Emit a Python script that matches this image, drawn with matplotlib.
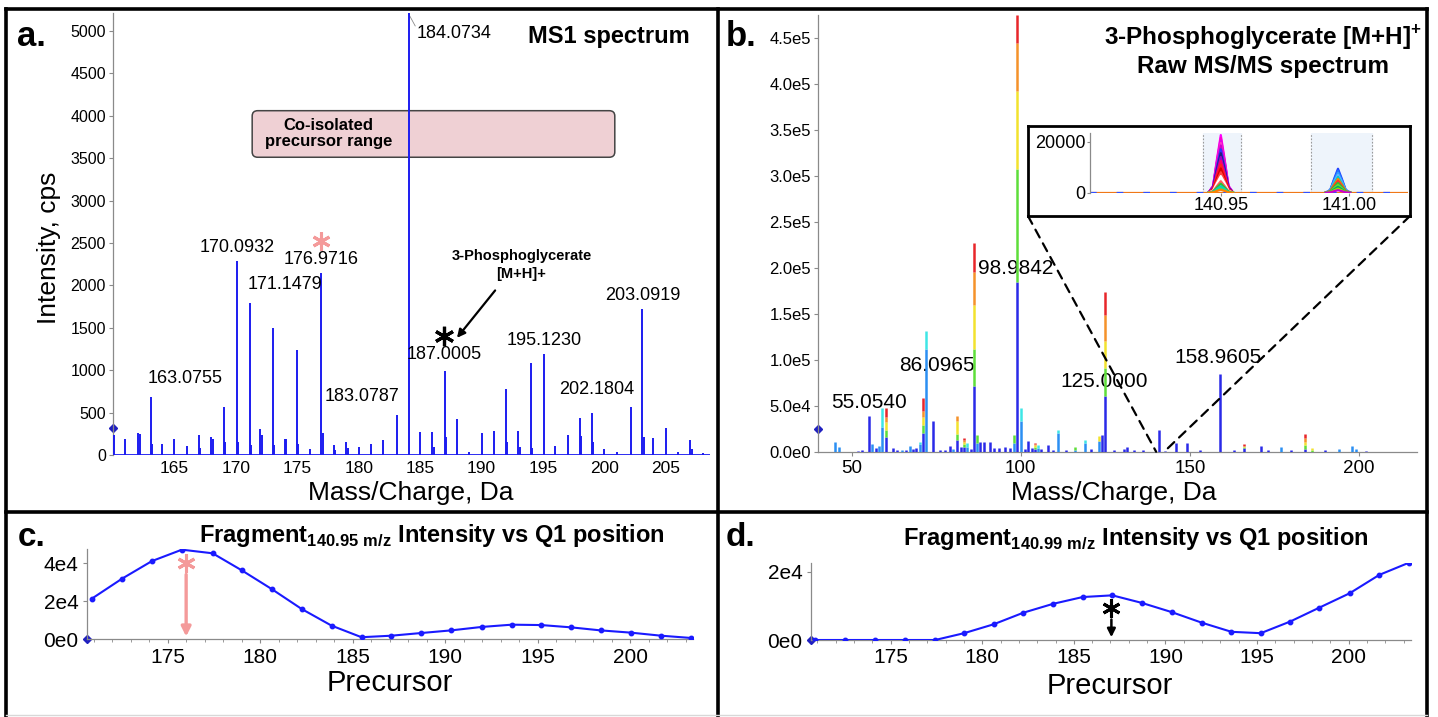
import numpy as np
import matplotlib
matplotlib.use('Agg')
import matplotlib.pyplot as plt
from matplotlib.lines import Line2D
from matplotlib.patches import FancyBboxPatch, ConnectionPatch
import matplotlib.transforms as mtransforms

plt.rcParams['font.family'] = ['Liberation Sans', 'DejaVu Sans']
plt.rcParams['mathtext.fontset'] = 'custom'
plt.rcParams['mathtext.rm'] = 'Liberation Sans'
plt.rcParams['mathtext.bf'] = 'Liberation Sans:bold'
NARROW = ['Liberation Sans Narrow', 'Liberation Sans', 'DejaVu Sans']

# ---------------- data ----------------
# panel a: MS1 spectrum (m/z, cps)
mz_a = [160.1, 161.0, 162.0, 162.2, 163.08, 163.2, 164.0, 165.0, 166.0, 167.0, 167.1,
        168.0, 168.1, 169.0, 169.1, 170.09, 170.2, 171.15, 171.25, 172.0, 172.1, 173.0,
        173.1, 174.0, 174.1, 175.0, 175.1, 176.0, 176.97, 177.1, 178.0, 178.1, 179.0,
        179.1, 180.0, 181.0, 182.0, 183.08, 184.07, 185.0, 186.0, 186.1, 187.0, 187.1,
        188.0, 189.0, 190.0, 191.0, 192.0, 192.1, 193.0, 193.1, 194.0, 194.1, 195.12,
        196.0, 197.0, 198.0, 198.1, 199.0, 199.1, 200.0, 201.0, 202.18, 203.09, 203.2,
        204.0, 205.0, 206.0, 207.0, 207.1, 208.0]
int_a = [236, 185, 263, 250, 688, 130, 126, 185, 106, 236, 80,
         216, 190, 562, 150, 2288, 150, 1796, 120, 303, 240, 1502,
         120, 185, 190, 1238, 130, 67, 2150, 263, 118, 60, 157,
         80, 98, 126, 177, 472, 5300, 267, 267, 100, 990, 216,
         420, 40, 263, 287, 774, 150, 283, 100, 1081, 80, 1191,
         106, 236, 432, 220, 491, 150, 67, 40, 562, 1718, 216,
         197, 314, 40, 177, 70, 28]
label_mz_a = [163.0755, 170.0932, 171.1479, 176.9716, 183.0787, 187.0005, 195.1230,
              202.1804, 203.0919]
label_int_a = [688, 2288, 1796, 2150, 472, 990, 1191, 562, 1718]
label_txt_a = ['163.0755', '170.0932', '171.1479', '176.9716', '183.0787', '187.0005',
               '195.1230', '202.1804', '203.0919']

# panel b: raw MS/MS spectrum, stacked per overlaid scan colour (x1000 counts)
mz_b = [45.1, 46.3, 52.0, 53.2, 55.05, 56.1, 57.1, 58.0, 59.05, 60.05, 62.2, 63.5, 65.0,
        66.2, 67.2, 68.2, 69.1, 70.1, 71.05, 72.08, 74.1, 76.1, 77.5, 79.1, 80.0, 81.05,
        82.2, 83.1, 84.1, 85.2, 86.1, 87.1, 88.0, 89.1, 91.0, 92.2, 93.5, 95.2, 96.7,
        98.1, 98.98, 100.05, 101.2, 102.2, 103.2, 104.2, 105.2, 106.1, 108.1, 109.5,
        111.1, 113.5, 116.1, 119.1, 120.8, 123.0, 124.0, 125.0, 127.5, 130.5, 131.5,
        133.5, 136.0, 140.9, 142.5, 145.8, 149.0, 153.0, 158.95, 163.0, 166.0, 171.0,
        173.0, 176.9, 180.0, 184.05, 186.1, 190.0, 193.9, 198.0, 199.2, 202.0]
blue_b = [0, 0, 1.0, 1.5, 39, 0, 4.5, 0, 0, 16, 3.5, 1.5, 0,
          1.5, 0, 2.5, 3.5, 0, 20, 0, 33, 2, 1.5, 6, 0, 13,
          5.4, 5, 0, 2.5, 71, 0, 11, 11, 11, 3.6, 3.6, 4.7, 3.6,
          0, 185, 0, 2.5, 12, 3.6, 3, 0, 2.5, 7, 2,
          0, 2, 0, 0, 2.5, 0, 18, 61, 2, 2.5, 4.7,
          2, 2, 23.6, 1, 9.8, 9, 1.5, 85, 1.5, 4, 6.5,
          1.5, 0, 2, 3, 0, 1.5, 0, 0, 0, 1]
lblue_b = [11, 5.4, 0, 0, 0, 8, 0, 6, 27, 0, 0, 0, 2,
           0, 6, 0, 0, 8, 0, 112, 0, 0, 0, 0, 2.5, 0,
           0, 0, 5, 0, 0, 10, 0, 0, 0, 0, 0, 0, 0,
           10, 0, 33, 0, 0, 0, 0, 4, 0, 0, 0,
           20, 0, 2, 9, 0, 12, 0, 0, 0, 0, 0,
           0, 0, 0, 0, 0, 0, 0, 0, 0, 0, 0,
           0, 5.4, 0, 0, 0, 0, 2.9, 6.2, 2.9, 0]
cyan_b = [0, 0, 0, 0, 0, 0, 0, 0, 20, 0, 0, 0, 0,
          0, 0, 0, 0, 3, 0, 19, 0, 0, 0, 0, 0, 0,
          0, 0, 4, 0, 0, 0, 0, 0, 0, 0, 0, 0, 0,
          0, 0, 14, 0, 0, 0, 0, 3, 0, 0, 0,
          3.6, 0, 0, 4, 0, 0, 0, 0, 0, 0, 0,
          0, 0, 0, 0, 0, 0, 0, 0, 0, 0, 0,
          0, 0, 0, 0, 0, 0, 0, 0, 0, 0]
green_b = [0, 0, 0, 0, 0, 0, 0, 0, 0, 8, 0, 0, 0,
           0, 0, 0, 0, 0, 9, 0, 0, 0, 0, 0, 0, 6,
           0, 3, 0, 0, 41, 8, 0, 0, 0, 0, 0, 0, 0,
           8, 123, 0, 0, 0, 0, 2, 0, 0, 0, 0,
           0, 0, 2.7, 0, 0, 0, 0, 30, 0, 0, 0,
           0, 0, 0, 0, 0, 0, 0, 0, 0, 1, 0,
           0, 0, 0, 4, 2, 0, 0, 0, 0, 0]
yellow_b = [0, 0, 0, 0, 0, 0, 0, 0, 0, 8, 0, 0, 0,
            0, 0, 0, 0, 0, 9, 0, 0, 0, 0, 0, 0, 14,
            0, 3, 0, 0, 48, 0, 0, 0, 0, 0, 0, 0, 0,
            0, 84, 0, 0, 0, 0, 2, 0, 0, 0, 0,
            0, 0, 0, 0, 0, 5, 0, 29, 0, 0, 0,
            0, 0, 0, 0, 0, 0, 0, 0, 0, 1.5, 0,
            0, 0, 0, 4, 1.6, 0, 0, 0, 0, 0]
orange_b = [0, 0, 0, 0, 0, 0, 0, 0, 0, 6, 0, 0, 0,
            0, 0, 0, 0, 0, 6, 0, 0, 0, 0, 0, 0, 6,
            0, 2, 0, 0, 36, 0, 0, 0, 0, 0, 0, 0, 0,
            0, 53, 0, 0, 0, 0, 1, 0, 0, 0, 0,
            0, 0, 0, 0, 0, 0, 0, 29, 0, 0, 0,
            0, 0, 0, 0, 0, 0, 0, 0, 0, 0, 0,
            0, 0, 0, 4, 0, 0, 0, 0, 0, 0]
red_b = [0, 0, 0, 0, 0, 0, 0, 0, 0, 10, 0, 0, 0,
         0, 0, 0, 0, 0, 14, 0, 0, 0, 0, 0, 0, 0,
         0, 2, 0, 0, 31, 0, 0, 0, 0, 0, 0, 0, 0,
         0, 30, 0, 0, 0, 0, 1, 0, 0, 0, 0,
         0, 0, 0, 0, 0, 0, 0, 25, 0, 0, 0,
         0, 0, 0, 0, 0, 0, 0, 0, 0, 1.8, 0,
         0, 0, 0, 4, 0, 0, 0, 0, 0, 0]
label_txt_b = ['55.0540', '86.0965', '98.9842', '125.0000', '158.9605']
label_x_b = [55.05, 86.4, 98.5, 124.75, 158.4]
label_y_b = [54.0, 94.2, 199.7, 76.8, 102.9]

# inset: overlaid fragment profiles (x1000 counts at apex)
inset_peaks = [140.950, 140.9957]
inset_h1 = [22.6, 21.5, 20.5, 19.5, 18.5, 17.0, 15.5, 14.0, 12.5, 11.0, 9.5, 8.0, 6.5,
            4.5, 3.5, 2.5, 1.8, 1.2]
inset_h2 = [9.4, 8.6, 7.8, 7.0, 6.2, 5.4, 4.6, 3.8, 3.0, 2.3, 1.6, 1.0]
profile_dx = [-0.0048, -0.003, -0.0015, 0.0, 0.0015, 0.003, 0.0048]
profile_rel = [0.0, 0.12, 0.58, 1.0, 0.58, 0.12, 0.0]

# panels c and d: fragment intensity vs Q1 position
q1 = [170.9, 172.53, 174.15, 175.77, 177.43, 179.01, 180.62, 182.24, 183.86, 185.48,
      187.1, 188.7, 190.33, 191.97, 193.6, 195.2, 196.8, 198.4, 200.05, 201.67, 203.3]
frag_14095 = [21400, 31900, 41200, 47200, 45300, 36300, 26500, 16000, 7200, 1100,
              1900, 3300, 4700, 6500, 7700, 7500, 6300, 4700, 3500, 1900, 700]
frag_14099 = [0, 0, 0, 0, 0, 2000, 4600, 8000, 10600, 12600,
              13100, 10900, 8200, 5100, 2400, 2000, 5400, 9500, 13700, 19100, 22700]

# ---------------- figure ----------------
W, H = 1438, 717
fig = plt.figure(figsize=(W / 100, H / 100), dpi=100)


def box(l, t, r, b):
    return [l / W, 1 - b / H, (r - l) / W, (b - t) / H]


def fp(px, py):
    return (px / W, 1 - py / H)


BLUE = '#1c1cf0'
GRAY = '#8a8a8a'
PINK = '#f49a9a'
STAR = (6, 2, 0)

# panel borders
for (x0, y0, x1, y1) in [(6, 9, 1427, 9), (6, 9, 6, 717), (1427, 9, 1427, 717),
                         (718, 9, 718, 717), (6, 512, 1427, 512)]:
    fig.add_artist(Line2D([x0 / W, x1 / W], [1 - y0 / H, 1 - y1 / H], color='black',
                          lw=2.6, solid_capstyle='projecting'))
fig.add_artist(Line2D([6 / W, 1427 / W], [1 - 715 / H, 1 - 715 / H], color='#d8d8d8', lw=1))


def style_axes(ax):
    for s in ['top', 'right']:
        ax.spines[s].set_visible(False)
    for s in ['left', 'bottom']:
        ax.spines[s].set_color(GRAY)
        ax.spines[s].set_linewidth(0.9)
    ax.tick_params(colors=GRAY, labelcolor='black', length=3, width=0.8)


# ---- panel a ----
ax_a = fig.add_axes(box(113, 13, 710, 455))
style_axes(ax_a)
ax_a.spines['bottom'].set_visible(False)
ax_a.vlines(mz_a, 0, int_a, color=BLUE, lw=1.4, zorder=3)
ax_a.axhline(0, color=BLUE, lw=1.3, zorder=3)
ax_a.set_xlim(160, 208.6)
ax_a.set_ylim(0, 5212)
ax_a.set_yticks(np.arange(0, 5001, 500))
ax_a.set_xticks([165, 170, 175, 180, 185, 190, 195, 200, 205])
ax_a.tick_params(axis='y', labelsize=11.5, pad=2)
ax_a.tick_params(axis='x', labelsize=12.5, length=0, pad=4)
ax_a.plot([0], [322], marker='D', ms=4, color='#2020c0', clip_on=False,
          transform=mtransforms.blended_transform_factory(ax_a.transAxes, ax_a.transData))

ha_a = ['left', 'center', 'left', 'center', 'right', 'center', 'center', 'right', 'center']
gap_a = [7, 3.5, 7, 3.5, 7, 6, 3.5, 7, 3.5]
for mz, iv, t, ha, g in zip(label_mz_a, label_int_a, label_txt_a, ha_a, gap_a):
    dx = -2 if ha == 'left' else (2 if ha == 'right' else 0)
    ax_a.annotate(t, (mz, iv), xytext=(dx, g), textcoords='offset points', ha=ha,
                  va='bottom', fontsize=13, zorder=4)
ax_a.text(184.75, 4976, '184.0734', ha='left', va='center', fontsize=13)
ax_a.plot([184.07, 184.6], [5200, 5060], color=GRAY, lw=0.6)

co = FancyBboxPatch((171.33, 3511), 29.52, 549, boxstyle='round,pad=0,rounding_size=0.45',
                    mutation_aspect=140, facecolor='#efd0d4', edgecolor='#444444', lw=1.1,
                    zorder=2)
ax_a.add_patch(co)
ax_a.text(177.55, 3790, 'Co-isolated\nprecursor range', ha='center', va='center',
          fontsize=12, fontweight='bold', linespacing=1.15, zorder=2.5)
ax_a.plot([176.92], [2520], marker=STAR, ms=13, mew=2.2, color=PINK)
ax_a.plot([186.93], [1400], marker=STAR, ms=14, mew=2.3, color='black')
ax_a.annotate('', xy=(187.86, 1356), xytext=(191.25, 1966),
              arrowprops=dict(arrowstyle='-|>', color='black', lw=1.6, mutation_scale=12))
ax_a.text(193.25, 2240, '3-Phosphoglycerate\n[M+H]+', ha='center', va='center',
          fontsize=10.5, fontweight='bold', linespacing=1.3)

fig.text(*fp(690, 37), 'MS1 spectrum', ha='right', va='center', fontsize=17,
         fontweight='bold')
fig.text(*fp(17, 37), 'a.', ha='left', va='center', fontsize=25, fontweight='bold')
fig.text(*fp(49, 248), 'Intensity, cps', rotation=90, ha='center', va='center',
         fontsize=19)
fig.text(*fp(411, 493), 'Mass/Charge, Da', ha='center', va='center', fontsize=19)

# ---- panel b ----
ax_b = fig.add_axes(box(817.7, 15, 1416.7, 451.7))
style_axes(ax_b)
layers = [blue_b, lblue_b, cyan_b, green_b, yellow_b, orange_b, red_b]
layer_colors = ['#2a2ae8', '#2b8ff2', '#3ee6e6', '#5ede3a', '#f2e22e', '#f5922a', '#e8262a']
bottom = np.zeros(len(mz_b))
for vals, c in zip(layers, layer_colors):
    v = np.array(vals) * 1000
    m = v > 0
    ax_b.vlines(np.array(mz_b)[m], bottom[m], bottom[m] + v[m], color=c, lw=1.8, zorder=3)
    bottom = bottom + v
ax_b.set_xlim(40, 217)
ax_b.set_ylim(0, 4.75e5)
ax_b.set_yticks(np.arange(0, 4.51e5, 0.5e5))
ax_b.set_yticklabels(['0.0e0', '5.0e4', '1.0e5', '1.5e5', '2.0e5', '2.5e5', '3.0e5',
                      '3.5e5', '4.0e5', '4.5e5'])
ax_b.set_xticks([50, 100, 150, 200])
ax_b.tick_params(axis='y', labelsize=12, pad=2)
ax_b.tick_params(axis='x', labelsize=13.5, pad=3)
ax_b.plot([0], [24700], marker='D', ms=4, color='#2020c0', clip_on=False,
          transform=mtransforms.blended_transform_factory(ax_b.transAxes, ax_b.transData))
ha_b = ['center', 'right', 'center', 'center', 'center']
for t, x, y, ha in zip(label_txt_b, label_x_b, label_y_b, ha_b):
    ax_b.text(x, y * 1000, t, ha=ha, va='center', fontsize=15, zorder=2)

fig.text(*fp(726, 37), 'b.', ha='left', va='center', fontsize=25, fontweight='bold')
fig.text(*fp(1263, 38), r'3-Phosphoglycerate [M+H]$^{\mathbf{+}}$', ha='center',
         va='center', fontsize=17.5, fontweight='bold')
fig.text(*fp(1263, 67), 'Raw MS/MS spectrum', ha='center', va='center', fontsize=17.5,
         fontweight='bold')
fig.text(*fp(1114, 493), 'Mass/Charge, Da', ha='center', va='center', fontsize=19)

# inset
frame = fig.add_axes(box(1028, 126, 1410, 216))
frame.set_xticks([])
frame.set_yticks([])
for s in frame.spines.values():
    s.set_linewidth(2)
frame.set_zorder(5)
ax_in = fig.add_axes(box(1090, 133.3, 1408, 192.7))
ax_in.set_zorder(6)
ax_in.patch.set_alpha(0)
style_axes(ax_in)
ax_in.spines['bottom'].set_visible(False)
ax_in.set_xlim(140.899, 141.023)
ax_in.set_ylim(0, 23300)
ax_in.axvspan(140.943, 140.958, color='#eef4fb', zorder=0)
ax_in.axvspan(140.985, 141.009, color='#eef4fb', zorder=0)
for xv in [140.943, 140.958, 140.985, 141.009]:
    ax_in.axvline(xv, color='#9a9a9a', lw=0.8, ls=(0, (1.5, 1.5)), zorder=1)
ax_in.axhline(0, color='#f07818', lw=1.6, zorder=2)
ax_in.axhline(0, color='#3050ff', lw=1.6, ls=(0, (3, 9)), zorder=2)
colors1 = ['#ff00ff', '#ff00cc', '#e600e6', '#ff33cc', '#cc00cc', '#3030ff', '#202080',
           '#9900cc', '#ff0066', '#ff2020', '#dd0000', '#ff4040', '#ffffff', '#ff6060',
           '#30c030', '#00cccc', '#20e080', '#ff8000']
colors2 = ['#1f3fff', '#1f6fff', '#3399ff', '#66b3ff', '#00cccc', '#ff8000', '#ff3030',
           '#30c030', '#66dd33', '#00aa66', '#99dd00', '#cc00cc']
for heights, cols, cx in [(inset_h1, colors1, inset_peaks[0]),
                          (inset_h2, colors2, inset_peaks[1])]:
    for hgt, c in zip(heights, cols):
        ax_in.plot(cx + np.array(profile_dx), hgt * 1000 * np.array(profile_rel), color=c,
                   lw=1.6, zorder=3)
ax_in.set_xticks([140.95, 141.00])
ax_in.set_xticklabels(['140.95', '141.00'])
ax_in.set_yticks([0, 20000])
ax_in.set_yticklabels(['0', '20000'])
ax_in.tick_params(axis='both', labelsize=13, pad=1, length=2)

for xa, xb in [(0, 140.0), (1, 142.4)]:
    cp = ConnectionPatch(xyA=(xa, 0), coordsA=frame.transAxes, xyB=(xb, 0),
                         coordsB=ax_b.transData, ls=(0, (4, 3)), lw=1.6, color='black',
                         zorder=4)
    fig.add_artist(cp)

# ---- panels c and d ----
def q1_panel(rect, vals, ymax, yt, ytl):
    ax = fig.add_axes(box(*rect))
    style_axes(ax)
    ax.plot(q1, vals, color='#1a1aff', lw=1.5, marker='o', ms=3.2, zorder=3)
    ax.set_xlim(170.64, 203.4)
    ax.set_ylim(0, ymax)
    ax.set_xticks([175, 180, 185, 190, 195, 200])
    ax.set_xticks(np.arange(171, 204, 1), minor=True)
    ax.set_yticks(yt)
    ax.set_yticklabels(ytl)
    ax.tick_params(axis='x', which='minor', length=2, colors=GRAY)
    ax.tick_params(axis='both', which='major', labelsize=15, pad=3)
    for lab in ax.get_xticklabels() + ax.get_yticklabels():
        lab.set_family(NARROW)
    ax.plot([0], [0], marker='D', ms=4, color='#2020c0', clip_on=False,
            transform=mtransforms.blended_transform_factory(ax.transAxes, ax.transData))
    return ax


ax_c = q1_panel((87, 549.3, 693, 639.3), frag_14095, 47400, [0, 20000, 40000],
                ['0e0', '2e4', '4e4'])
ax_c.annotate('', xy=(176.0, 0), xytext=(176.0, 35600),
              arrowprops=dict(arrowstyle='-|>', color=PINK, lw=2.4, mutation_scale=14))
ax_c.plot([176.0], [40200], marker=STAR, ms=13, mew=2.2, color=PINK)

ax_d = q1_panel((810.7, 563.3, 1411, 640), frag_14099, 22500, [0, 20000], ['0e0', '2e4'])
ax_d.annotate('', xy=(187.05, 0), xytext=(187.05, 6840),
              arrowprops=dict(arrowstyle='-|>', color='black', lw=1.8, mutation_scale=12))
ax_d.plot([187.05], [9500], marker=STAR, ms=13, mew=2.2, color='black', clip_on=False)

fig.text(*fp(18, 538), 'c.', ha='left', va='center', fontsize=24, fontweight='bold')
fig.text(*fp(726, 538), 'd.', ha='left', va='center', fontsize=24, fontweight='bold')
fig.text(*fp(199, 542), r'Fragment$_{\mathbf{140.95\ m/z}}$ Intensity vs Q1 position',
         ha='left', va='baseline', fontsize=17, fontweight='bold')
fig.text(*fp(903, 545), r'Fragment$_{\mathbf{140.99\ m/z}}$ Intensity vs Q1 position',
         ha='left', va='baseline', fontsize=17, fontweight='bold')
fig.text(*fp(390, 683), 'Precursor', ha='center', va='center', fontsize=21, family=NARROW)
fig.text(*fp(1110, 686), 'Precursor', ha='center', va='center', fontsize=21, family=NARROW)

fig.savefig('out.png', dpi=100)
